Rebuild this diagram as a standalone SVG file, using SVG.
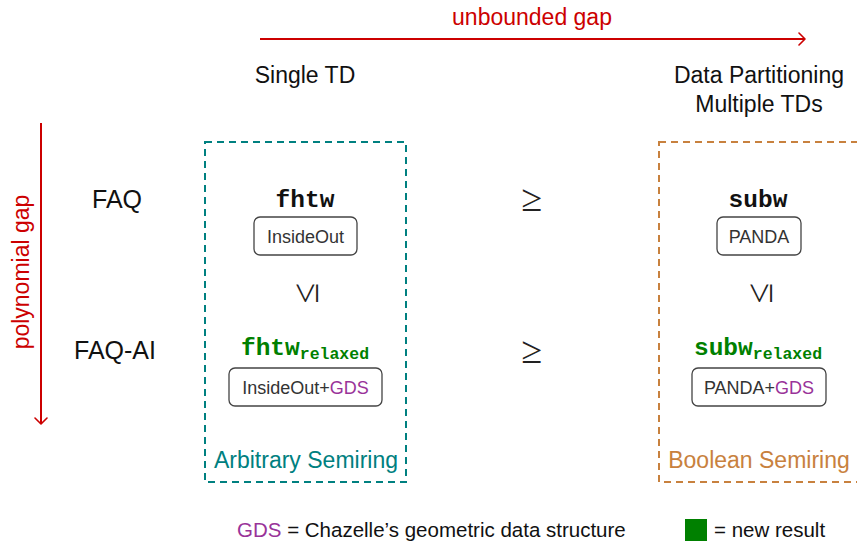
<svg xmlns="http://www.w3.org/2000/svg" width="857" height="542" viewBox="0 0 857 542">
  <defs>
    <marker id="chevron" viewBox="-8 -7 10 14" markerUnits="userSpaceOnUse" markerWidth="10" markerHeight="14" refX="0" refY="0" orient="auto">
      <path d="M -6 -6 L 0 0 L -6 6" fill="none" stroke="#cc0000" stroke-width="1.6" stroke-linecap="round" stroke-linejoin="round"/>
    </marker>
    <style>
      .sans { font-family: "Liberation Sans", Arial, Helvetica, sans-serif; }
      .label { font-size: 23px; fill: #111; }
      .row { font-size: 25px; fill: #111; }
      .gap { font-size: 23px; fill: #cc0000; }
      .tt { font-family: "Liberation Mono", "DejaVu Sans Mono", monospace; font-weight: bold; font-size: 24.5px; }
      .sub { font-size: 16.5px; }
      .algo { fill: #ffffff; stroke: #444; stroke-width: 1.3; }
      .algotext { font-size: 18px; fill: #333; }
      .gds { fill: #993399; }
      .new { fill: #008000; }
      .rel { font-family: "Liberation Serif", "Times New Roman", serif; font-size: 38px; fill: #222; }
      .region { fill: none; stroke-width: 2; stroke-dasharray: 7 5; }
      .semiring { font-size: 23px; }
      .arrow { stroke: #cc0000; stroke-width: 2; fill: none; }
      .legend { font-size: 20.5px; fill: #111; }
    </style>
  </defs>

  <rect width="857" height="542" fill="#ffffff"/>

  <!-- axes -->
  <g id="connectors">
    <line class="arrow" x1="260" y1="39" x2="805" y2="39" marker-end="url(#chevron)"/>
    <line class="arrow" x1="41" y1="123" x2="41" y2="424" marker-end="url(#chevron)"/>
  </g>

  <g id="axis-labels" class="sans">
    <text class="gap" x="532" y="25" text-anchor="middle">unbounded gap</text>
    <text class="gap" transform="translate(29,272) rotate(-90)" text-anchor="middle">polynomial gap</text>
    <text class="label" x="305" y="83" text-anchor="middle">Single TD</text>
    <text class="label" x="759" y="83" text-anchor="middle">Data Partitioning</text>
    <text class="label" x="759" y="112" text-anchor="middle">Multiple TDs</text>
    <text class="row" x="117" y="208" text-anchor="middle">FAQ</text>
    <text class="row" x="115" y="359" text-anchor="middle">FAQ-AI</text>
  </g>

  <!-- semiring regions -->
  <g id="arbitrary-semiring">
    <rect class="region" stroke="#008080" x="205" y="142" width="201" height="340"/>
    <text class="sans semiring" x="306" y="468" text-anchor="middle" fill="#008080">Arbitrary Semiring</text>
  </g>
  <g id="boolean-semiring">
    <rect class="region" stroke="#c8813e" x="659" y="142" width="202" height="340"/>
    <text class="sans semiring" x="759" y="468" text-anchor="middle" fill="#c8813e">Boolean Semiring</text>
  </g>

  <!-- width measures -->
  <g id="fhtw">
    <text class="tt" x="305" y="207" text-anchor="middle" fill="#111">fhtw</text>
    <rect class="algo" x="254" y="217" width="103" height="38" rx="6"/>
    <text class="sans algotext" x="305.5" y="243" text-anchor="middle">InsideOut</text>
  </g>
  <g id="subw">
    <text class="tt" x="758" y="207" text-anchor="middle" fill="#111">subw</text>
    <rect class="algo" x="717" y="217" width="84" height="38" rx="6"/>
    <text class="sans algotext" x="759" y="243" text-anchor="middle">PANDA</text>
  </g>
  <g id="fhtw-relaxed">
    <text class="tt new" x="305" y="355" text-anchor="middle">fhtw<tspan class="sub" dy="4">relaxed</tspan></text>
    <rect class="algo" x="229" y="368" width="153" height="38" rx="6"/>
    <text class="sans algotext" x="305.5" y="394" text-anchor="middle">InsideOut+<tspan class="gds">GDS</tspan></text>
  </g>
  <g id="subw-relaxed">
    <text class="tt new" x="758" y="355" text-anchor="middle">subw<tspan class="sub" dy="4">relaxed</tspan></text>
    <rect class="algo" x="692" y="368" width="134" height="38" rx="6"/>
    <text class="sans algotext" x="759" y="394" text-anchor="middle">PANDA+<tspan class="gds">GDS</tspan></text>
  </g>

  <!-- relations between measures -->
  <g id="relations">
    <text class="rel" x="532" y="211" text-anchor="middle">≥</text>
    <text class="rel" x="532" y="363" text-anchor="middle">≥</text>
    <text class="rel" transform="translate(305,293) rotate(-90)" text-anchor="middle" dominant-baseline="central">≤</text>
    <text class="rel" transform="translate(759,293) rotate(-90)" text-anchor="middle" dominant-baseline="central">≤</text>
  </g>

  <!-- legend -->
  <g id="legend" class="sans">
    <text class="legend" x="237" y="537"><tspan class="gds">GDS</tspan> = Chazelle’s geometric data structure</text>
    <rect class="new" x="685" y="519" width="22" height="22"/>
    <text class="legend" x="714" y="537">= new result</text>
  </g>
</svg>
